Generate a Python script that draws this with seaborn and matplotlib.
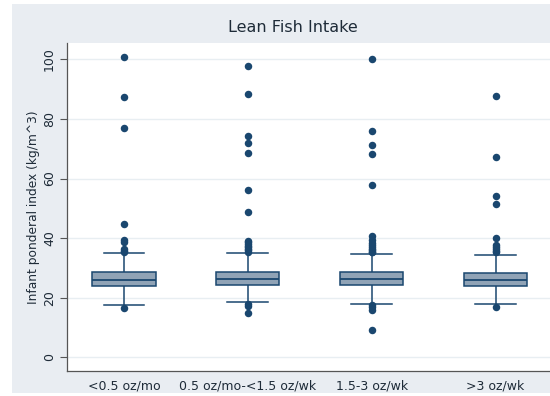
import numpy as np
import pandas as pd
import matplotlib
matplotlib.use("Agg")
import matplotlib.pyplot as plt
import seaborn as sns
from matplotlib.patches import Rectangle

# ---- data ----
categories = ["<0.5 oz/mo", "0.5 oz/mo-<1.5 oz/wk", "1.5-3 oz/wk", ">3 oz/wk"]
lower_whisker = [17.7, 18.4, 17.9, 17.9]
q1 = [23.8, 24.1, 24.1, 23.9]
median = [25.8, 26.3, 26.3, 26.0]
q3 = [28.6, 28.5, 28.5, 28.2]
upper_whisker = [34.9, 34.9, 34.8, 34.5]

outliers_g1 = [100.7, 87.3, 77.0, 44.9, 39.4, 38.6, 36.3, 35.7, 35.4, 16.5]
outliers_g2 = [97.9, 88.4, 74.4, 71.9, 68.7, 56.1, 48.8, 39.2, 38.6, 38.0, 37.5,
               37.0, 36.5, 36.0, 35.5, 17.8, 17.3, 14.9]
outliers_g3 = [100.1, 75.9, 71.2, 68.3, 57.9, 40.6, 39.5, 38.5, 37.8, 37.0, 36.5,
               36.0, 35.5, 35.2, 17.5, 17.0, 16.0, 9.3]
outliers_g4 = [87.7, 67.2, 54.2, 51.5, 40.2, 37.6, 37.0, 36.4, 35.8, 35.2, 17.0]

y_ticks = [0, 20, 40, 60, 80, 100]
title = "Lean Fish Intake"
y_label = "Infant ponderal index (kg/m^3)"

# ---- build tables ----
box_rows = []
for c, a, b, m, d, e in zip(categories, lower_whisker, q1, median, q3, upper_whisker):
    for v in (a, b, m, d, e):
        box_rows.append({"cat": c, "val": v})
box_df = pd.DataFrame(box_rows)

out_rows = []
for c, lst in zip(categories, [outliers_g1, outliers_g2, outliers_g3, outliers_g4]):
    for v in lst:
        out_rows.append({"cat": c, "val": v})
out_df = pd.DataFrame(out_rows)

navy = "#1a476f"
box_fill = "#90a3b6"
bg = "#e9edf2"
grid_c = "#e8eef2"
text_c = "#1e2b38"

plt.rcParams["font.family"] = ["DejaVu Sans"]

fig = plt.figure(figsize=(5.5, 3.96), dpi=100, facecolor="white")
bgrect = Rectangle((12 / 550, 3 / 396), 538 / 550, 389 / 396,
                   transform=fig.transFigure, facecolor=bg,
                   edgecolor="none", zorder=-10)
fig.add_artist(bgrect)
ax = fig.add_axes([67 / 550, (396 - 371) / 396, (550 - 67) / 550, (371 - 43) / 396])
ax.set_zorder(1)
ax.set_facecolor("white")

sns.boxplot(data=box_df, x="cat", y="val", order=categories, whis=(0, 100),
            width=0.51, color=box_fill, linecolor=navy, linewidth=1.1,
            saturation=1, showfliers=False, ax=ax, capwidths=0.33,
            medianprops={"color": navy, "linewidth": 1.3})
sns.stripplot(data=out_df, x="cat", y="val", order=categories, jitter=False,
              color=navy, size=5.4, linewidth=0, ax=ax, zorder=4)

ax.set_xlim(-0.46, 3.44)
ax.set_ylim(-4.6, 105.5)
ax.set_yticks(y_ticks)
ax.set_yticklabels([str(t) for t in y_ticks], rotation=90, va="center",
                   fontsize=9, color=text_c)
ax.tick_params(axis="y", length=5, width=0.8, color="#555555", pad=3)
ax.tick_params(axis="x", length=0, pad=6, labelsize=9, labelcolor=text_c)
ax.set_xlabel("")
ax.set_ylabel(y_label, fontsize=8.8, color=text_c, labelpad=2)
ax.yaxis.grid(True, color=grid_c, linewidth=1)
ax.set_axisbelow(True)
for s in ["top", "right"]:
    ax.spines[s].set_visible(False)
for s in ["left", "bottom"]:
    ax.spines[s].set_color("#555555")
    ax.spines[s].set_linewidth(0.9)

fig.text(293 / 550, (396 - 28) / 396, title, ha="center", va="center",
         fontsize=11.5, color=text_c)

fig.savefig("out.png", dpi=100, facecolor="white")
